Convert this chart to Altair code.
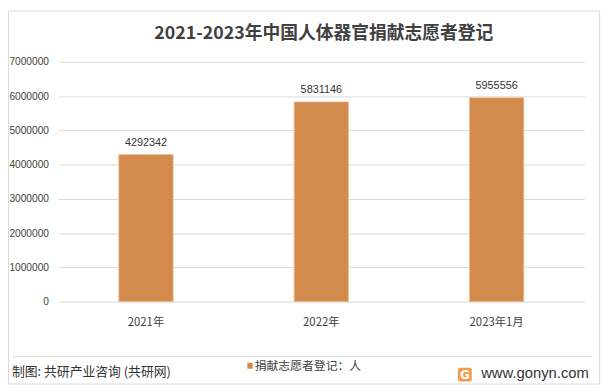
import altair as alt
import pandas as pd

categories = ["2021年", "2022年", "2023年1月"]
values = [4292342, 5831146, 5955556]
series_name = "捐献志愿者登记：人"
y_ticks = [0, 1000000, 2000000, 3000000, 4000000, 5000000, 6000000, 7000000]
title_text = "2021-2023年中国人体器官捐献志愿者登记"
source_text = "制图: 共研产业咨询 (共研网)"
site_text = "www.gonyn.com"

BAR = "#D38B4D"
FONT = "Noto Sans CJK SC"
NUMFONT = "Liberation Sans"

df = pd.DataFrame({"cat": categories, "val": values, "series": [series_name] * 3})
one = pd.DataFrame({"a": [0]})

x_enc = alt.X("cat:N", sort=categories, title=None,
              scale=alt.Scale(paddingInner=0.69, paddingOuter=0.345),
              axis=alt.Axis(labelAngle=0, domain=False, ticks=False, tickSize=0,
                            labelFontSize=11.5, labelColor="#404040", labelFont=FONT,
                            labelPadding=15))
y_enc = alt.Y("val:Q", title=None,
              scale=alt.Scale(domain=[0, 7000000], nice=False),
              axis=alt.Axis(values=y_ticks, domain=False, ticks=False, tickSize=0,
                            labelFontSize=10.3, labelColor="#404040", labelFont=NUMFONT,
                            labelPadding=10, labelOverlap=False, labelBound=False,
                            gridColor="#D9D9D9", gridWidth=1, format="d"))

bars = alt.Chart(df).mark_bar(color=BAR, stroke="#EDBF94", strokeWidth=0.8).encode(x=x_enc, y=y_enc)
labels = alt.Chart(df).mark_text(dy=-12, fontSize=11, color="#333333", font=NUMFONT,
                                 baseline="middle").encode(
    x=x_enc, y=y_enc, text=alt.Text("val:Q", format="d"))

border = alt.Chart(one).mark_rect(fill=None, stroke="#D9D9D9", strokeWidth=1).encode(
    x=alt.value(-50.5), x2=alt.value(548.5), y=alt.value(-51.5), y2=alt.value(326.5))
footer_line = alt.Chart(one).mark_rule(color="#D9D9D9", strokeWidth=1).encode(
    x=alt.value(-47), x2=alt.value(541), y=alt.value(298.5))
title = alt.Chart(one).mark_text(text=title_text, fontSize=18, fontWeight="bold",
                                 color="#404040", font=FONT, align="center",
                                 baseline="middle").encode(
    x=alt.value(269), y=alt.value(-28))
source = alt.Chart(one).mark_text(text=source_text, fontSize=13, color="#333333",
                                  font=FONT, align="left", baseline="middle").encode(
    x=alt.value(-47), y=alt.value(314))
leg_sq = alt.Chart(one).mark_rect(color=BAR).encode(
    x=alt.value(191.5), x2=alt.value(197), y=alt.value(305), y2=alt.value(311))
leg_tx = alt.Chart(one).mark_text(text=series_name, fontSize=12, color="#404040",
                                  font=FONT, align="left", baseline="middle").encode(
    x=alt.value(199), y=alt.value(308))
logo = alt.Chart(one).mark_rect(color="#F39A4C", cornerRadius=2).encode(
    x=alt.value(405), x2=alt.value(419), y=alt.value(310), y2=alt.value(324))
logo_g = alt.Chart(one).mark_text(text="G", fontSize=12, fontWeight="bold", color="white",
                                  font="DejaVu Sans", align="center", baseline="middle").encode(
    x=alt.value(412), y=alt.value(317.5))
site = alt.Chart(one).mark_text(text=site_text, fontSize=15, color="#333333",
                                font="Liberation Sans", align="left", baseline="middle").encode(
    x=alt.value(428.5), y=alt.value(315.5))

chart = alt.layer(border, footer_line, bars, labels, title, source, leg_sq, leg_tx,
                  logo, logo_g, site).properties(
    width=533, height=243,
    padding={"left": 51, "top": 52, "right": 22, "bottom": 89},
    autosize=alt.AutoSizeParams(type="none"),
    background="white",
).configure_view(stroke=None)

chart.save("out.html", embed_options={"renderer": "svg", "actions": False})
